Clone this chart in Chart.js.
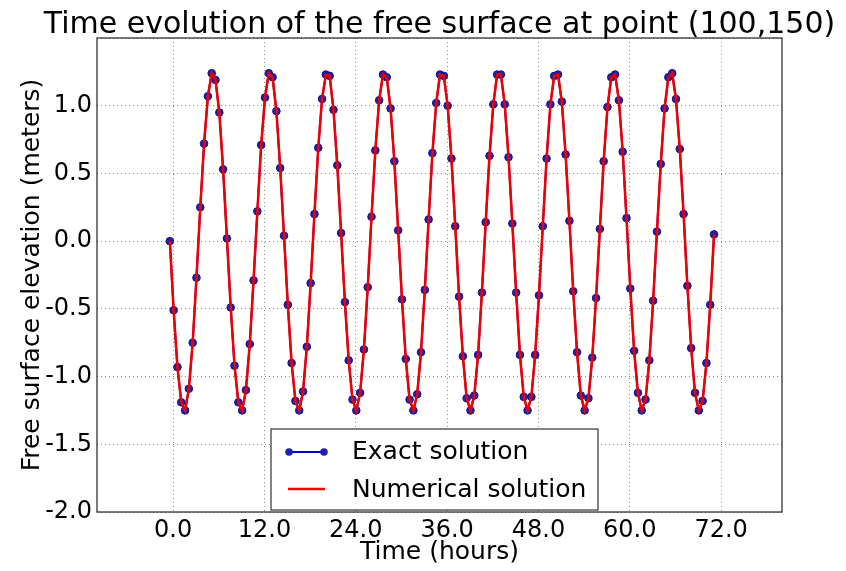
<!DOCTYPE html>
<html>
<head>
<meta charset="utf-8">
<script src="https://cdn.jsdelivr.net/npm/chart.js@4.4.0/dist/chart.umd.min.js"></script>
<style>
html, body { margin: 0; padding: 0; background: #fff; }
#wrap { width: 846px; height: 571px; }
</style>
</head>
<body>
<div id="wrap"><canvas id="myChart" width="846" height="571"></canvas></div>
<script>
"use strict";

//region Data
const titleText = "Time evolution of the free surface at point (100,150)";
const xTitle = "Time (hours)";
const yTitle = "Free surface elevation (meters)";
const seriesNames = ["Exact solution", "Numerical solution"];

// samples every half hour, first one sits slightly left of the 0.0 tick
const sampleStart = -0.43;
const sampleStep = 0.5;

const exactElevation = [
    0.00, -0.51, -0.93, -1.19, -1.25, -1.09, -0.75, -0.27, 0.25, 0.72, 1.07, 1.24, 1.19, 0.95, 0.53,
    0.02, -0.49, -0.92, -1.19, -1.25, -1.10, -0.76, -0.29, 0.22, 0.71, 1.06, 1.24, 1.21, 0.96, 0.54,
    0.04, -0.47, -0.90, -1.18, -1.25, -1.11, -0.78, -0.31, 0.20, 0.69, 1.05, 1.23, 1.22, 0.97, 0.56,
    0.06, -0.45, -0.88, -1.17, -1.25, -1.12, -0.80, -0.34, 0.18, 0.67, 1.04, 1.23, 1.21, 0.98, 0.59,
    0.08, -0.43, -0.87, -1.17, -1.25, -1.13, -0.82, -0.36, 0.16, 0.65, 1.02, 1.23, 1.22, 1.00, 0.61,
    0.11, -0.41, -0.85, -1.16, -1.25, -1.14, -0.84, -0.38, 0.14, 0.63, 1.01, 1.23, 1.23, 1.01, 0.62,
    0.13, -0.38, -0.84, -1.15, -1.25, -1.15, -0.84, -0.40, 0.11, 0.61, 1.01, 1.22, 1.23, 1.03, 0.64,
    0.15, -0.37, -0.82, -1.14, -1.25, -1.16, -0.86, -0.42, 0.09, 0.59, 0.99, 1.21, 1.23, 1.04, 0.66,
    0.17, -0.35, -0.81, -1.12, -1.25, -1.17, -0.88, -0.44, 0.07, 0.57, 0.98, 1.21, 1.24, 1.05, 0.68,
    0.20, -0.33, -0.79, -1.12, -1.25, -1.18, -0.90, -0.47, 0.05
];

// the red line runs through every blue dot
const numericalElevation = [
    0.00, -0.51, -0.93, -1.19, -1.25, -1.09, -0.75, -0.27, 0.25, 0.72, 1.07, 1.24, 1.19, 0.95, 0.53,
    0.02, -0.49, -0.92, -1.19, -1.25, -1.10, -0.76, -0.29, 0.22, 0.71, 1.06, 1.24, 1.21, 0.96, 0.54,
    0.04, -0.47, -0.90, -1.18, -1.25, -1.11, -0.78, -0.31, 0.20, 0.69, 1.05, 1.23, 1.22, 0.97, 0.56,
    0.06, -0.45, -0.88, -1.17, -1.25, -1.12, -0.80, -0.34, 0.18, 0.67, 1.04, 1.23, 1.21, 0.98, 0.59,
    0.08, -0.43, -0.87, -1.17, -1.25, -1.13, -0.82, -0.36, 0.16, 0.65, 1.02, 1.23, 1.22, 1.00, 0.61,
    0.11, -0.41, -0.85, -1.16, -1.25, -1.14, -0.84, -0.38, 0.14, 0.63, 1.01, 1.23, 1.23, 1.01, 0.62,
    0.13, -0.38, -0.84, -1.15, -1.25, -1.15, -0.84, -0.40, 0.11, 0.61, 1.01, 1.22, 1.23, 1.03, 0.64,
    0.15, -0.37, -0.82, -1.14, -1.25, -1.16, -0.86, -0.42, 0.09, 0.59, 0.99, 1.21, 1.23, 1.04, 0.66,
    0.17, -0.35, -0.81, -1.12, -1.25, -1.17, -0.88, -0.44, 0.07, 0.57, 0.98, 1.21, 1.24, 1.05, 0.68,
    0.20, -0.33, -0.79, -1.12, -1.25, -1.18, -0.90, -0.47, 0.05
];

const xTicks = [0, 12, 24, 36, 48, 60, 72];
const yTicks = [-2.0, -1.5, -1.0, -0.5, 0.0, 0.5, 1.0, 1.5];
//endregion

//region Helpers
function toPoints(values) {
    return values.map(function (v, i) {
        return { x: sampleStart + i * sampleStep, y: v };
    });
}

const FONT = "'DejaVu Sans', 'Liberation Sans', sans-serif";
const gridStyle = {
    color: "#8a8a8a",
    lineWidth: 1,
    drawTicks: false
};
//endregion

//region Plugins
// title centred over the axes (wider than the plot, so drawn without maxWidth squeeze)
const plotTitle = {
    id: "plotTitle",
    afterDraw: function (chart) {
        let ctx = chart.ctx;
        let a = chart.chartArea;
        ctx.save();
        ctx.fillStyle = "#000";
        ctx.font = "30px " + FONT;
        ctx.textAlign = "center";
        ctx.textBaseline = "alphabetic";
        ctx.fillText(titleText, (a.left + a.right) / 2, 33);
        ctx.restore();
    }
};

// box around the axes and the boxed legend in the lower middle
const frameAndLegend = {
    id: "frameAndLegend",
    afterDatasetsDraw: function (chart) {
        let ctx = chart.ctx;
        let a = chart.chartArea;
        ctx.save();
        ctx.setLineDash([]);
        ctx.strokeStyle = "#222";
        ctx.lineWidth = 1.2;
        ctx.strokeRect(a.left, a.top, a.right - a.left, a.bottom - a.top);

        // legend box
        let lx = 271, ly = 429, lw = 327, lh = 81;
        ctx.fillStyle = "#fff";
        ctx.fillRect(lx, ly, lw, lh);
        ctx.strokeStyle = "#333";
        ctx.lineWidth = 1.2;
        ctx.strokeRect(lx, ly, lw, lh);

        let ds = chart.data.datasets;
        // exact: line with dots at both ends
        ctx.strokeStyle = ds[0].borderColor;
        ctx.lineWidth = ds[0].borderWidth;
        ctx.beginPath();
        ctx.moveTo(289, 452);
        ctx.lineTo(324, 452);
        ctx.stroke();
        ctx.fillStyle = ds[0].pointBackgroundColor;
        [289, 324].forEach(function (px) {
            ctx.beginPath();
            ctx.arc(px, 452, 3.8, 0, Math.PI * 2);
            ctx.fill();
        });
        // numerical: plain red line
        ctx.strokeStyle = ds[1].borderColor;
        ctx.lineWidth = ds[1].borderWidth;
        ctx.beginPath();
        ctx.moveTo(288, 489);
        ctx.lineTo(325, 489);
        ctx.stroke();

        ctx.fillStyle = "#000";
        ctx.font = "25px " + FONT;
        ctx.textBaseline = "middle";
        ctx.textAlign = "left";
        ctx.fillText(ds[0].label, 352, 452);
        ctx.fillText(ds[1].label, 352, 490);
        ctx.restore();
    }
};
//endregion

//region Main
let newChart = new Chart(document.getElementById("myChart"), {
    type: "line",
    data: {
        datasets: [
            {
                label: seriesNames[0],
                data: toPoints(exactElevation),
                borderColor: "#0000d8",
                borderWidth: 2,
                pointRadius: 3.8,
                pointBackgroundColor: "#2020b0",
                pointBorderColor: "#14147a",
                pointBorderWidth: 1,
                tension: 0,
                order: 1
            },
            {
                label: seriesNames[1],
                data: toPoints(numericalElevation),
                borderColor: "#f00000",
                borderWidth: 2.5,
                pointRadius: 0,
                tension: 0,
                order: 0
            }
        ]
    },
    options: {
        responsive: false,
        animation: false,
        events: [],
        layout: { padding: { left: 0, right: 64, top: 38, bottom: 0 } },
        plugins: {
            legend: { display: false },
            tooltip: { enabled: false },
            title: { display: false }
        },
        scales: {
            x: {
                type: "linear",
                min: -10,
                max: 80,
                grid: gridStyle,
                border: { display: false, dash: [1, 3] },
                afterBuildTicks: function (scale) {
                    scale.ticks = xTicks.map(function (v) { return { value: v }; });
                },
                afterFit: function (scale) {
                    scale.height = 59;
                    scale.paddingLeft = 0;
                    scale.paddingRight = 0;
                },
                ticks: {
                    color: "#000",
                    padding: 4,
                    maxRotation: 0,
                    font: { family: FONT, size: 24 },
                    callback: function (v) { return Number(v).toFixed(1); }
                },
                title: {
                    display: true,
                    text: xTitle,
                    color: "#000",
                    font: { family: FONT, size: 25, lineHeight: 1.0 },
                    padding: { top: 0, bottom: 6 }
                }
            },
            y: {
                type: "linear",
                min: -2.0,
                max: 1.5,
                grid: gridStyle,
                border: { display: false, dash: [1, 3] },
                afterBuildTicks: function (scale) {
                    scale.ticks = yTicks.map(function (v) { return { value: v }; });
                },
                afterFit: function (scale) {
                    scale.width = 97;
                    scale.paddingTop = 0;
                    scale.paddingBottom = 0;
                },
                ticks: {
                    color: "#000",
                    padding: 5,
                    font: { family: FONT, size: 24 },
                    callback: function (v) {
                        // the top label is hidden under the title in the original
                        return v >= 1.5 ? "" : Number(v).toFixed(1);
                    }
                },
                title: {
                    display: true,
                    text: yTitle,
                    color: "#000",
                    font: { family: FONT, size: 25, lineHeight: 1.0 },
                    padding: { top: 20, bottom: 0 }
                }
            }
        }
    },
    plugins: [frameAndLegend, plotTitle]
});
//endregion
</script>
</body>
</html>
